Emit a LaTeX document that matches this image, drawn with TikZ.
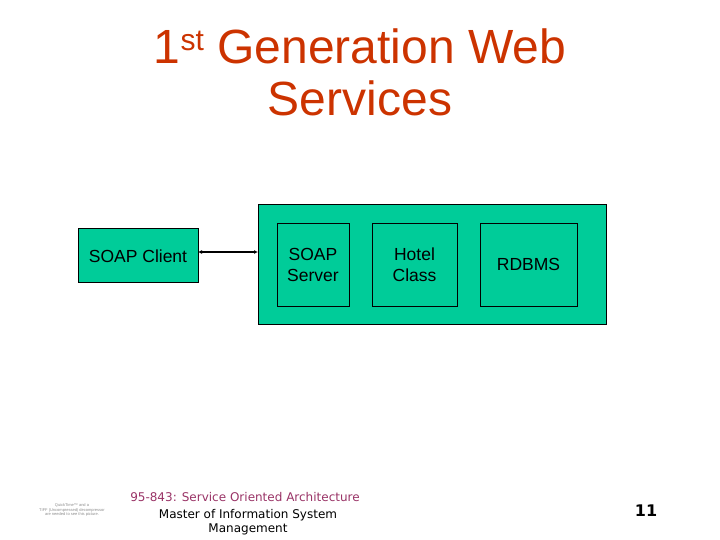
\documentclass[tikz,border=0pt]{standalone}
\usepackage{fontspec}
\setmainfont{Liberation Sans}
\newfontfamily\verd{DejaVu Sans}
\usetikzlibrary{arrows.meta}
\definecolor{boxgreen}{HTML}{00CC99}
\definecolor{titlered}{HTML}{CC3300}
\definecolor{footpurple}{HTML}{993366}
\tikzset{
  gbox/.style={draw=black, fill=boxgreen, line width=0.8pt},
  lbl/.style={font=\fontsize{17.5}{21}\selectfont, align=center, text=black},
}
\begin{document}
\begin{tikzpicture}[x=1pt,y=-1pt]
\useasboundingbox (0,0) rectangle (720,540);
% title
\node[text=titlered, font=\fontsize{48}{52}\selectfont, align=center] (title) at (360,72)
  {1\raisebox{13pt}{\fontsize{30}{30}\selectfont st} Generation Web\\Services};
% boxes
\draw[gbox] (78,228) rectangle (198,282);
\node[lbl] (client) at (138,256) {SOAP Client};
\draw[gbox] (258,204) rectangle (606,324);
\draw[gbox] (277,223) rectangle (349,306);
\node[lbl] (server) at (313,264.5) {SOAP\\Server};
\draw[gbox] (372,223) rectangle (457,306);
\node[lbl] (hotel) at (414.5,264.5) {Hotel\\Class};
\draw[gbox] (480,223) rectangle (577,306);
\node[lbl] (rdbms) at (528.5,264.5) {RDBMS};
\coordinate (cl) at (198,252);
\coordinate (bl) at (258,252);
\draw[line width=1.6pt, {Latex[length=4pt,width=4pt]}-{Latex[length=4pt,width=4pt]}] (cl) -- (bl);
% footer
\node[text=footpurple, font=\verd\fontsize{12}{14}\selectfont] (course) at (245,497) {95-843: Service Oriented Architecture};
\node[font=\verd\fontsize{12}{14}\selectfont, align=center] (mism) at (248,522) {Master of Information System\\Management};
\node[font=\verd\bfseries\fontsize{16}{18}\selectfont] (num) at (646,511) {11};
\node[text=black!45, font=\fontsize{4}{4.5}\selectfont, align=center] (qt) at (72,510)
  {QuickTime™ and a\\TIFF (Uncompressed) decompressor\\are needed to see this picture.};
\end{tikzpicture}
\end{document}
